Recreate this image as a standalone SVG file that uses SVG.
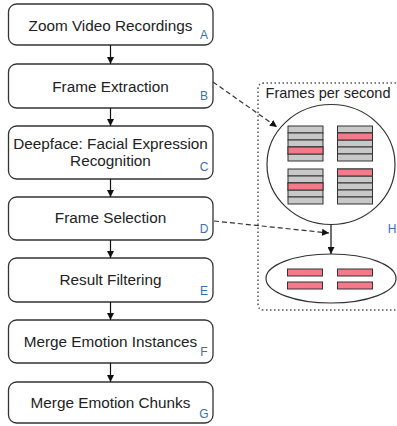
<svg xmlns="http://www.w3.org/2000/svg" width="397" height="426" viewBox="0 0 397 426">
<style>
.box{fill:#fff;stroke:#333;stroke-width:1.3}
.t{font-family:"Liberation Sans",Arial,sans-serif;font-size:15.3px;fill:#222;text-anchor:middle}
.l{font-family:"Liberation Sans",Arial,sans-serif;font-size:12px;fill:#3a6fb5;text-anchor:middle}
.g{fill:#c8c8c8;stroke:#333;stroke-width:1}
.r{fill:#f47a8a;stroke:#333;stroke-width:1}
.c{fill:none;stroke:#111;stroke-width:1.2}
.d{fill:none;stroke:#333;stroke-width:1.2;stroke-dasharray:5 3}
</style>
<defs>
<marker id="ah" viewBox="0 0 10 10" refX="10" refY="5" markerWidth="7" markerHeight="7" orient="auto" markerUnits="userSpaceOnUse">
<path d="M0,0 L10,5 L0,10 z" fill="#111"/>
</marker>
<g id="stack">
<rect class="g" x="0" y="0" width="35" height="7"/>
<rect class="g" x="0" y="7" width="35" height="7"/>
<rect class="g" x="0" y="14" width="35" height="7"/>
<rect class="g" x="0" y="21" width="35" height="7"/>
<rect class="g" x="0" y="28" width="35" height="7"/>
</g>
</defs>
<rect width="397" height="426" fill="#fff"/>

<g id="container">
<path d="M400 83 H264 Q258 83 258 89 V304 Q258 310 264 310 H400" fill="none" stroke="#555" stroke-width="1.5" stroke-dasharray="1.5 2.5"/>
<text x="328" y="98" font-family="Liberation Sans,Arial,sans-serif" font-size="14.5" fill="#222" text-anchor="middle">Frames per second</text>
<text class="l" x="392" y="233">H</text>
</g>

<g id="A"><rect class="box" x="8.5" y="4" width="204.5" height="41" rx="8"/><text class="t" x="110.5" y="31">Zoom Video Recordings</text><text class="l" x="204" y="39">A</text></g>
<g id="B"><rect class="box" x="8.5" y="64" width="204.5" height="44" rx="8"/><text class="t" x="110.5" y="92">Frame Extraction</text><text class="l" x="204" y="100">B</text></g>
<g id="C"><rect class="box" x="8.5" y="126" width="204.5" height="53" rx="8"/><text class="t" x="110.5" y="149">Deepface: Facial Expression</text><text class="t" x="110.5" y="166">Recognition</text><text class="l" x="204" y="171">C</text></g>
<g id="D"><rect class="box" x="8.5" y="197" width="204.5" height="43" rx="8"/><text class="t" x="110.5" y="223">Frame Selection</text><text class="l" x="204" y="233">D</text></g>
<g id="E"><rect class="box" x="8.5" y="258" width="204.5" height="44" rx="8"/><text class="t" x="110.5" y="285">Result Filtering</text><text class="l" x="204" y="295">E</text></g>
<g id="F"><rect class="box" x="8.5" y="320" width="204.5" height="43" rx="8"/><text class="t" x="110.5" y="347">Merge Emotion Instances</text><text class="l" x="204" y="356">F</text></g>
<g id="G"><rect class="box" x="8.5" y="382" width="204.5" height="41" rx="8"/><text class="t" x="110.5" y="408">Merge Emotion Chunks</text><text class="l" x="204" y="418">G</text></g>

<g id="frames">
<ellipse cx="331" cy="164.5" rx="64" ry="60" fill="#fff" stroke="#333" stroke-width="1.2"/>
<use href="#stack" x="288" y="126"/><rect class="r" x="288" y="147" width="35" height="7"/>
<use href="#stack" x="337.5" y="126"/><rect class="r" x="337.5" y="133" width="35" height="7"/>
<use href="#stack" x="288" y="169"/><rect class="r" x="288" y="183" width="35" height="7"/>
<use href="#stack" x="337.5" y="169"/><rect class="r" x="337.5" y="169" width="35" height="7"/>
</g>

<g id="selected">
<ellipse cx="331" cy="278.5" rx="65" ry="24.5" fill="#fff" stroke="#333" stroke-width="1.2"/>
<rect class="r" x="287.5" y="269" width="35" height="7"/>
<rect class="r" x="337.5" y="269" width="35" height="7"/>
<rect class="r" x="287.5" y="282" width="35" height="7"/>
<rect class="r" x="337.5" y="282" width="35" height="7"/>
</g>

<g id="connectors">
<line class="c" x1="110.5" y1="45" x2="110.5" y2="64" marker-end="url(#ah)"/>
<line class="c" x1="110.5" y1="108" x2="110.5" y2="126" marker-end="url(#ah)"/>
<line class="c" x1="110.5" y1="179" x2="110.5" y2="197" marker-end="url(#ah)"/>
<line class="c" x1="110.5" y1="240" x2="110.5" y2="258" marker-end="url(#ah)"/>
<line class="c" x1="110.5" y1="302" x2="110.5" y2="320" marker-end="url(#ah)"/>
<line class="c" x1="110.5" y1="363" x2="110.5" y2="382" marker-end="url(#ah)"/>
<line class="c" x1="331" y1="224.5" x2="331" y2="254" marker-end="url(#ah)"/>
<line class="d" x1="213" y1="82" x2="277" y2="127" marker-end="url(#ah)"/>
<line class="d" x1="214" y1="221" x2="329" y2="233" marker-end="url(#ah)"/>
</g>
</svg>
